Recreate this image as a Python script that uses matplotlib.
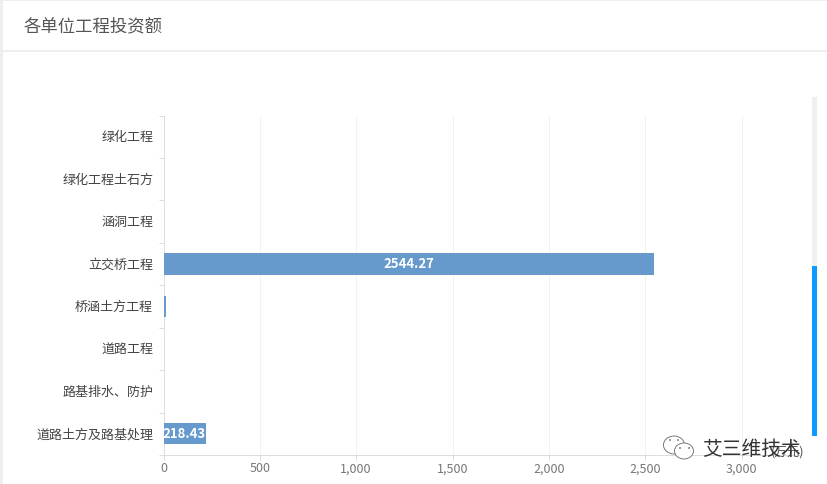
import matplotlib
matplotlib.use('Agg')
import matplotlib.pyplot as plt
from matplotlib.patches import Rectangle, Ellipse

plt.rcParams['font.family'] = ['Noto Sans CJK SC', 'DejaVu Sans']

# data, top to bottom as in the picture
categories = ['绿化工程', '绿化工程土石方', '涵洞工程', '立交桥工程', '桥涵土方工程', '道路工程', '路基排水、防护', '道路土方及路基处理']
values = [0, 0, 0, 2544.27, 12, 0, 0, 218.43]
bar_labels = ['', '', '', '2544.27', '', '', '', '218.43']
x_ticks = [0, 500, 1000, 1500, 2000, 2500, 3000]
x_tick_labels = ['0', '500', '1,000', '1,500', '2,000', '2,500', '3,000']
title = '各单位工程投资额'
unit = '(万元)'
watermark = '艾三维技术'

W, H = 827, 485
fig = plt.figure(figsize=(W / 100, H / 100), dpi=100, facecolor='white')

# page chrome drawn in pixel coordinates
bg = fig.add_axes([0, 0, 1, 1])
bg.set_xlim(0, W)
bg.set_ylim(H, 0)
bg.axis('off')
bg.add_patch(Rectangle((0, 0), W, 2, color='#eeeeee', lw=0))
bg.add_patch(Rectangle((0, 0), 3, H, color='#eeeeee', lw=0))
bg.add_patch(Rectangle((3, 51), W, 2, color='#eeeeee', lw=0))
bg.text(24, 26.5, title, fontsize=12.5, color='#555555', va='center', ha='left')

# scrollbar on the right
bg.add_patch(Rectangle((812, 98), 5, 169, color='#f0f0f0', lw=0))
bg.add_patch(Rectangle((812, 267), 5, 170, color='#0d9bff', lw=0))

# chart area
left, right, top, bottom = 163.5, 800, 116.5, 456
ax = fig.add_axes([left / W, 1 - bottom / H, (right - left) / W, (bottom - top) / H])
ax.set_facecolor('none')
ax.set_xlim(0, (right - left) / 0.19267)
ax.set_ylim(len(categories) - 0.5, -0.5)

ax.barh(range(len(categories)), values, height=0.5, color='#6699cc', zorder=3)
for i, (v, lab) in enumerate(zip(values, bar_labels)):
    if lab:
        ax.text(v / 2, i - 0.025, lab, color='white', fontsize=9.5, fontweight='bold',
                ha='center', va='center', zorder=4)

ax.set_xticks(x_ticks)
ax.set_xticklabels(x_tick_labels, fontsize=9, color='#777777')
ax.set_yticks(range(len(categories)))
ax.set_yticklabels(categories, fontsize=9.4, color='#444444')
ax.tick_params(axis='y', length=0, pad=7.5)
ax.tick_params(axis='x', length=3.6, color='#dddddd', width=0.72, pad=1, direction='out')
for lab in ax.get_yticklabels():
    lab.set_verticalalignment('center')

# ticks sit on the category boundaries
ax.set_yticks([i - 0.5 for i in range(len(categories) + 1)], minor=True)
ax.tick_params(axis='y', which='minor', length=3.6, color='#dddddd', width=0.72)

ax.grid(axis='x', color='#f2f2f2', lw=0.72, zorder=0)
for side in ['top', 'right']:
    ax.spines[side].set_visible(False)
for side in ['left', 'bottom']:
    ax.spines[side].set_color('#dddddd')
    ax.spines[side].set_linewidth(0.72)

# unit name and the watermark overprinted on it
bg2 = fig.add_axes([0, 0, 1, 1])
bg2.set_xlim(0, W)
bg2.set_ylim(H, 0)
bg2.axis('off')
bg2.text(804, 452, unit, fontsize=9, color='#555555', ha='right', va='center')
for xy, w, h in [((674, 446), 21, 18), ((684, 452), 19, 16)]:
    bg2.add_patch(Ellipse(xy, w, h, facecolor='white', edgecolor='#666666', lw=0.6))
for x, y in [(670, 441), (678, 441), (680, 449), (689, 449)]:
    bg2.add_patch(Ellipse((x, y), 1.8, 1.8, color='#666666', lw=0))
bg2.text(702, 449, watermark, fontsize=14.2, color='#333333', ha='left', va='center')

fig.savefig('out.png', dpi=100)
